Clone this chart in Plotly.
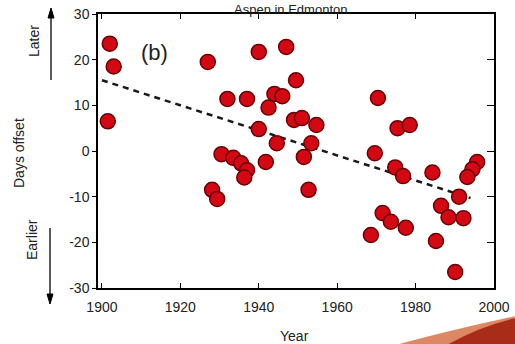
import plotly.graph_objects as go

# ---- data ----
years = [1902, 1903, 1901.5, 1927, 1940, 1947, 1949.5, 1932, 1937, 1944, 1946, 1942.5,
         1940, 1944.6, 1949, 1951, 1954.7, 1953.4, 1951.5, 1952.7,
         1930.5, 1933.5, 1935.5, 1937, 1936.3, 1941.8, 1928.1, 1929.4,
         1970.4, 1969.6, 1975.4, 1978.5, 1974.8, 1976.8, 1984.3,
         1995.7, 1994.5, 1993.2, 1991.1, 1986.5, 1988.4, 1992.2,
         1971.6, 1973.7, 1977.5, 1968.6, 1985.2, 1990.1]
offsets = [23.5, 18.5, 6.5, 19.5, 21.7, 22.8, 15.5, 11.4, 11.4, 12.5, 12.0, 9.5,
           4.8, 1.7, 6.8, 7.2, 5.7, 1.7, -1.3, -8.5,
           -0.7, -1.5, -2.7, -4.2, -5.8, -2.4, -8.5, -10.5,
           11.6, -0.5, 5.0, 5.7, -3.6, -5.5, -4.7,
           -2.4, -4.0, -5.7, -10.0, -12.0, -14.5, -14.7,
           -13.6, -15.5, -16.8, -18.4, -19.7, -26.5]

trend_years = [1900, 1994]
trend_values = [15.5, -10.3]

x_ticks = [1900, 1920, 1940, 1960, 1980, 2000]
x_ticklabels = ["1900", "1920", "1940", "1960", "1980", "2000"]
y_ticks = [-30, -20, -10, 0, 10, 20, 30]
y_ticklabels = ["-30", "-20", "-10", "0", "10", "20", "30"]

FONT = "Liberation Sans, Arial, Helvetica, sans-serif"
XR = [1899, 2000]
YR = [-30, 30]

# plot-area geometry in pixels
L, R, T, B = 98, 494, 14, 288
W, H = R - L, B - T


def px(xp, yp):
    """pixel position -> paper coordinates"""
    return (xp - L) / W, (B - yp) / H


fig = go.Figure()

fig.add_trace(go.Scatter(
    x=trend_years, y=trend_values, mode="lines",
    line=dict(color="#1a1a1a", width=2.5, dash="6px,5px"),
    hoverinfo="skip", showlegend=False))

fig.add_trace(go.Scatter(
    x=years, y=offsets, mode="markers",
    marker=dict(size=15, color="#d40812", line=dict(color="#6a0006", width=1.5)),
    showlegend=False))

# invisible trace for the mirrored (top/right) axes
fig.add_trace(go.Scatter(x=[XR[0]], y=[YR[0]], xaxis="x2", yaxis="y2",
                         mode="markers", marker=dict(opacity=0),
                         hoverinfo="skip", showlegend=False))

axis_common = dict(showgrid=False, zeroline=False, showline=True,
                   linecolor="black", linewidth=1.5, tickcolor="black",
                   tickwidth=1.3, automargin=False)

fig.update_layout(
    width=515, height=344,
    margin=dict(l=L, r=515 - R, t=T, b=344 - B, autoexpand=False),
    paper_bgcolor="white", plot_bgcolor="white",
    font=dict(family=FONT, size=14, color="#222"),
    xaxis=dict(range=XR, tickvals=x_ticks, ticktext=x_ticklabels,
               ticks="inside", ticklen=5, ticklabelstandoff=5,
               tickfont=dict(size=14, color="#222"), **axis_common),
    yaxis=dict(range=YR, tickvals=y_ticks, ticktext=y_ticklabels,
               ticks="outside", ticklen=4,
               tickfont=dict(size=14, color="#222"), **axis_common),
    xaxis2=dict(range=XR, overlaying="x", side="top", tickvals=x_ticks,
                showticklabels=False, ticks="inside", ticklen=5, **axis_common),
    yaxis2=dict(range=YR, overlaying="y", side="right", tickvals=y_ticks,
                showticklabels=False, ticks="inside", ticklen=7, **axis_common),
)

# title (cut at the top in the reference; kept fully visible here)
tx, ty = px(290, 0)
fig.add_annotation(text="Aspen in Edmonton", xref="paper", yref="paper",
                   x=tx, y=ty, xanchor="center", yanchor="top", showarrow=False,
                   font=dict(size=13, color="#222", family=FONT))

# x-axis title
ax_, ay_ = px(294, 336)
fig.add_annotation(text="Year", xref="paper", yref="paper", x=ax_, y=ay_,
                   xanchor="center", yanchor="middle", showarrow=False,
                   font=dict(size=14, color="#222", family=FONT))

# panel label
bx, by = px(154, 52)
fig.add_annotation(text="(b)", xref="paper", yref="paper", x=bx, y=by,
                   xanchor="center", yanchor="middle", showarrow=False,
                   font=dict(size=22, color="#222", family=FONT))

# y-axis labels
for text, (xp, yp) in [("Days offset", (19, 153)), ("Later", (34, 41)),
                       ("Earlier", (32, 240))]:
    xx, yy = px(xp, yp)
    fig.add_annotation(text=text, xref="paper", yref="paper", x=xx, y=yy,
                       textangle=-90, showarrow=False, xanchor="center",
                       yanchor="middle",
                       font=dict(size=14, color="#222", family=FONT))

# arrows beside Later / Earlier
x0, y0 = px(51, 80)
x1, y1 = px(51, 12)
fig.add_shape(type="line", xref="paper", yref="paper", x0=x0, y0=y0, x1=x1, y1=y1,
              line=dict(color="black", width=1.3))
a1, b1 = px(48, 18)
a2, b2 = px(51, 8)
a3, _ = px(54, 18)
fig.add_shape(type="path", xref="paper", yref="paper",
              path=f"M {a1} {b1} L {a2} {b2} L {a3} {b1} Z",
              fillcolor="black", line=dict(color="black", width=1))
x0, y0 = px(50, 228)
x1, y1 = px(50, 298)
fig.add_shape(type="line", xref="paper", yref="paper", x0=x0, y0=y0, x1=x1, y1=y1,
              line=dict(color="black", width=1.3))
a1, b1 = px(47, 294)
a2, b2 = px(50, 304)
a3, _ = px(53, 294)
fig.add_shape(type="path", xref="paper", yref="paper",
              path=f"M {a1} {b1} L {a2} {b2} L {a3} {b1} Z",
              fillcolor="black", line=dict(color="black", width=1))

# decorative swoosh bottom-right
sw1 = [px(392, 346), px(450, 330), px(516, 316), px(516, 346)]
sw2 = [px(445, 346), px(480, 326), px(516, 318), px(516, 346)]
for pts, col in [(sw1, "rgb(222,135,100)"), (sw2, "rgb(168,45,25)")]:
    (a, b), (c, d), (e, f), (g, h) = pts
    fig.add_shape(type="path", xref="paper", yref="paper",
                  path=f"M {a} {b} Q {c} {d} {e} {f} L {g} {h} Z",
                  fillcolor=col, line=dict(width=0), layer="above")

fig.write_html("out.html",
               config={"displayModeBar": False},
               post_script="document.body.style.margin='0';"
                           "document.body.style.overflow='hidden';")
